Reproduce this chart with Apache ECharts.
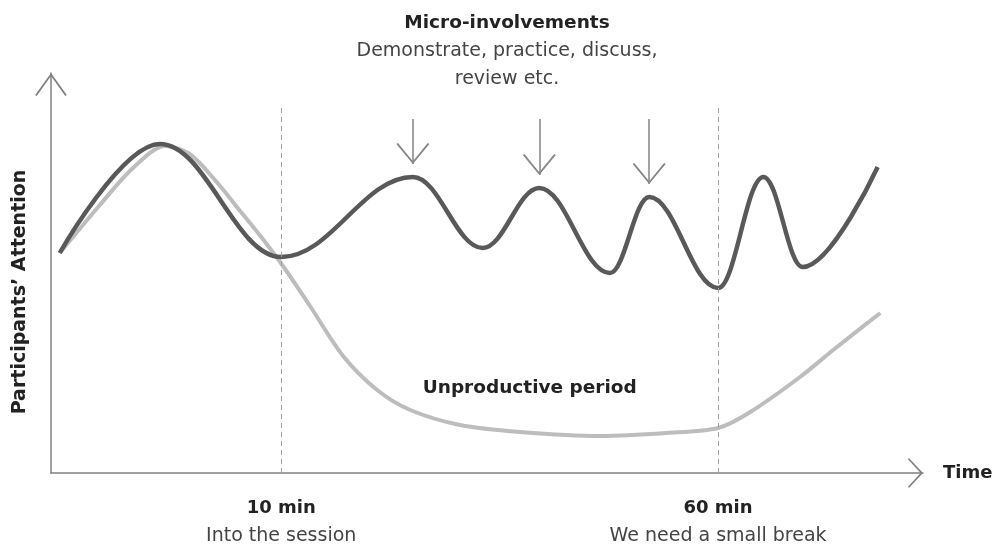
<!DOCTYPE html>
<html>
<head>
<meta charset="utf-8">
<title>Participants' attention</title>
<script src="https://cdn.jsdelivr.net/npm/echarts@6/dist/echarts.min.js"></script>
<style>
html, body { margin: 0; padding: 0; background: #fff; }
#board { width: 998px; height: 546px; }
</style>
</head>
<body>
<div id="board"></div>
<script>
// time runs 0..100 along the axis, attention 0..100 up the axis (schematic units)
var withInvolvements = [
  [1.0, 55], [12.5, 82.25], [26.4, 54], [41.5, 74], [49.5, 56.25], [56.0, 71.25],
  [64.1, 50], [68.6, 69], [76.5, 46.25], [81.7, 74], [86.2, 51.5], [94.8, 76.5]
];
var withoutInvolvements = [
  [1.0, 55], [5.6, 67], [9.4, 76.25], [13.1, 81.75], [15.9, 79.75], [18.8, 73.25],
  [21.7, 65.5], [24.2, 58.75], [26.6, 51.75], [29.7, 41.75], [33.5, 29.25], [37.4, 20.75],
  [41.2, 15.75], [46.9, 12], [53.8, 10.25], [63.0, 9.25], [70.6, 10], [76.5, 11.25],
  [80.2, 15.25], [85.9, 24], [89.7, 30.75], [95.1, 40]
];
var markers = [26.4, 76.5];
var markerTitles = ["10 min", "60 min"];
var markerNotes = ["Into the session", "We need a small break"];
var arrowPeaks = [3, 5, 7]; // peaks of withInvolvements that get an arrow
var unproductive = [54.9, 21.25];

var FONT = "DejaVu Sans";
var chevronY = "path://M0,23 L16.5,0 L33,23 L31.4,24 L16.5,3.2 L1.6,24 Z";
var chevronX = "path://M0,15 L16,0 L32,15 L30.6,16 L16,2.6 L1.4,16 Z";
var chevronArrow = "path://M0,21 L16.5,0 L33,21 L31.4,22 L16.5,3 L1.6,22 Z";

function nearestMarker(v) {
  var best = 0;
  for (var i = 1; i < markers.length; i++) {
    if (Math.abs(markers[i] - v) < Math.abs(markers[best] - v)) best = i;
  }
  return best;
}

var chart = echarts.init(document.getElementById("board"));
chart.setOption({
  animation: false,
  title: {
    text: "Micro-involvements",
    subtext: "Demonstrate, practice, discuss,\nreview etc.",
    left: 507,
    top: 12,
    padding: 0,
    textAlign: "center",
    itemGap: 3,
    textStyle: { fontFamily: FONT, fontSize: 18.5, fontWeight: "bold", color: "#222", lineHeight: 22 },
    subtextStyle: { fontFamily: FONT, fontSize: 19, color: "#444", lineHeight: 28 }
  },
  grid: { left: 51, right: 75, top: 73, bottom: 73 },
  xAxis: {
    type: "value",
    min: 0,
    max: 100,
    name: "Time",
    nameLocation: "end",
    nameGap: 20,
    nameTextStyle: { fontFamily: FONT, fontSize: 18, fontWeight: "bold", color: "#222" },
    splitLine: { show: false },
    axisTick: { show: false },
    axisLine: {
      lineStyle: { color: "#808080", width: 1.5 },
      symbol: ["none", chevronX],
      symbolSize: [32, 15],
      symbolOffset: [0, -7.5]
    },
    axisLabel: {
      customValues: markers,
      margin: 21,
      formatter: function (v) {
        var i = nearestMarker(v);
        return "{b|" + markerTitles[i] + "}\n{s|" + markerNotes[i] + "}";
      },
      rich: {
        b: { fontFamily: FONT, fontSize: 18, fontWeight: "bold", color: "#222", lineHeight: 28 },
        s: { fontFamily: FONT, fontSize: 19, color: "#444", lineHeight: 28 }
      }
    }
  },
  yAxis: {
    type: "value",
    min: 0,
    max: 100,
    name: "Participants\u2019 Attention",
    nameLocation: "middle",
    nameRotate: 90,
    nameGap: 21,
    nameTextStyle: { fontFamily: FONT, fontSize: 19, fontWeight: "bold", color: "#222", padding: [0, 38, 0, 0] },
    splitLine: { show: false },
    axisTick: { show: false },
    axisLabel: { show: false },
    axisLine: {
      lineStyle: { color: "#808080", width: 1.5 },
      symbol: ["none", chevronY],
      symbolSize: [33, 23],
      symbolOffset: [0, -11.5]
    }
  },
  series: [
    {
      type: "line",
      data: withoutInvolvements,
      smooth: 0.3,
      symbol: "none",
      lineStyle: { color: "#bdbdbd", width: 4 },
      markLine: {
        silent: true,
        symbol: "none",
        label: { show: false },
        lineStyle: { color: "#a0a0a0", width: 1, type: [5, 4] },
        data: markers.map(function (x) {
          return [{ coord: [x, 0] }, { coord: [x, 91.5] }];
        })
      },
      markPoint: {
        silent: true,
        symbol: "circle",
        symbolSize: 1,
        itemStyle: { color: "rgba(0,0,0,0)" },
        label: {
          show: true,
          position: "inside",
          formatter: "Unproductive period",
          fontFamily: FONT,
          fontSize: 18.5,
          fontWeight: "bold",
          color: "#222"
        },
        data: [{ coord: unproductive }]
      }
    },
    {
      type: "line",
      data: withInvolvements,
      smooth: 0.38,
      smoothMonotone: "x",
      symbol: "none",
      lineStyle: { color: "#595959", width: 4.5 },
      markLine: {
        silent: true,
        symbol: ["none", chevronArrow],
        symbolSize: [33, 21],
        symbolOffset: [0, [0, 10.5]],
        label: { show: false },
        lineStyle: { color: "#858585", width: 1.5, type: "solid" },
        data: arrowPeaks.map(function (i) {
          var p = withInvolvements[i];
          return [{ coord: [p[0], 88.5] }, { coord: [p[0], p[1] + 3.25] }];
        })
      }
    }
  ]
});
</script>
</body>
</html>
